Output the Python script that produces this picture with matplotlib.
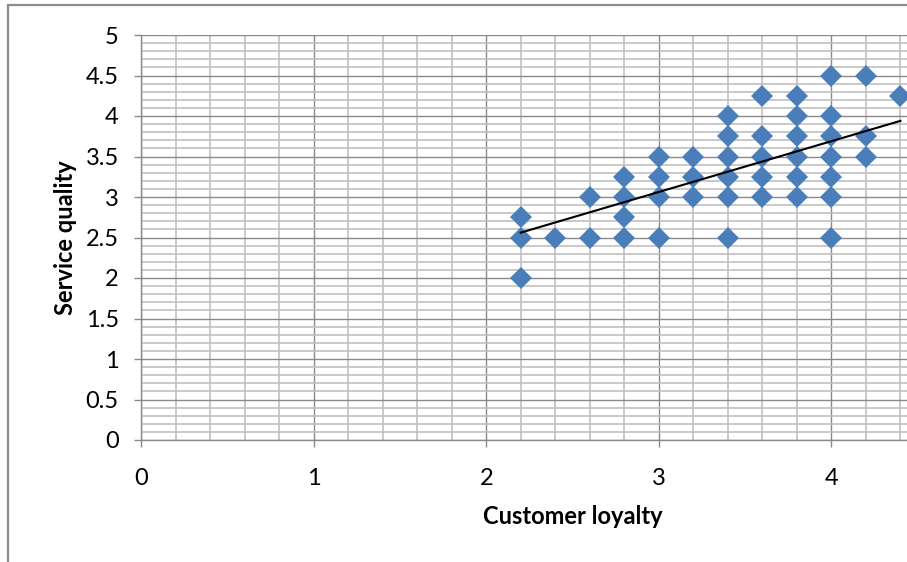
import numpy as np
import matplotlib.pyplot as plt
from matplotlib.patches import Rectangle
from matplotlib.ticker import MultipleLocator

plt.rcParams['font.family'] = ['Lato', 'DejaVu Sans']

# survey responses: customer loyalty (x) vs service quality (y)
loyalty = [2.2, 2.2, 2.2,
           2.4,
           2.6, 2.6,
           2.8, 2.8, 2.8, 2.8,
           3.0, 3.0, 3.0, 3.0,
           3.2, 3.2, 3.2,
           3.4, 3.4, 3.4, 3.4, 3.4, 3.4,
           3.6, 3.6, 3.6, 3.6, 3.6,
           3.8, 3.8, 3.8, 3.8, 3.8, 3.8,
           4.0, 4.0, 4.0, 4.0, 4.0, 4.0, 4.0,
           4.2, 4.2, 4.2,
           4.4]
quality = [2.75, 2.5, 2.0,
           2.5,
           3.0, 2.5,
           3.25, 3.0, 2.75, 2.5,
           3.5, 3.25, 3.0, 2.5,
           3.5, 3.25, 3.0,
           4.0, 3.75, 3.5, 3.25, 3.0, 2.5,
           4.25, 3.75, 3.5, 3.25, 3.0,
           4.25, 4.0, 3.75, 3.5, 3.25, 3.0,
           4.5, 4.0, 3.75, 3.5, 3.25, 3.0, 2.5,
           4.5, 3.75, 3.5,
           4.25]

# linear trend line end points
trend_x = [2.2, 4.4]
trend_y = [2.56, 3.94]

x_ticks = [0, 1, 2, 3, 4]

W, H = 907, 562
fig = plt.figure(figsize=(W / 100, H / 100), dpi=100)

# chart area border (runs off the right and bottom edges)
fig.patches.append(Rectangle((8 / W, -0.1), 1.2, 1 - 5 / H + 0.1,
                             transform=fig.transFigure, fill=False,
                             edgecolor='#8c8c8c', linewidth=1.6))

x0, x1 = 141, 141 + 5 * 172.6
y0, y1 = 440, 35
ax = fig.add_axes([x0 / W, (H - y0) / H, (x1 - x0) / W, (y0 - y1) / H])

ax.set_xlim(0, 5)
ax.set_ylim(0, 5)
ax.set_xticks(x_ticks)
ax.xaxis.set_minor_locator(MultipleLocator(0.2))
ax.yaxis.set_major_locator(MultipleLocator(0.5))
ax.yaxis.set_minor_locator(MultipleLocator(0.1))
ax.yaxis.set_major_formatter(plt.FuncFormatter(lambda v, p: f"{v:g}"))

ax.grid(which='minor', color='#c0c0c0', linewidth=1.2)
ax.grid(which='major', color='#8a8a8a', linewidth=1.0)
ax.set_axisbelow(True)

for s in ['top', 'right']:
    ax.spines[s].set_visible(False)
for s in ['left', 'bottom']:
    ax.spines[s].set_color('#8a8a8a')
    ax.spines[s].set_linewidth(1.0)

ax.tick_params(which='major', length=5, width=1.0, color='#8a8a8a',
               labelsize=17, labelcolor='black')
ax.tick_params(which='minor', length=0)
ax.tick_params(axis='x', pad=15)
ax.tick_params(axis='y', pad=11)

ax.plot(loyalty, quality, linestyle='none', marker='D', markersize=11,
        color='#4a7ebb', markeredgewidth=0, zorder=3, clip_on=False)
ax.plot(trend_x, trend_y, color='black', linewidth=1.5, zorder=4)

ax.set_xlabel('Customer loyalty', fontsize=17, fontweight='bold', labelpad=12)
ax.set_ylabel('Service quality', fontsize=17, fontweight='bold', labelpad=6)

fig.savefig('out.png', dpi=100)
